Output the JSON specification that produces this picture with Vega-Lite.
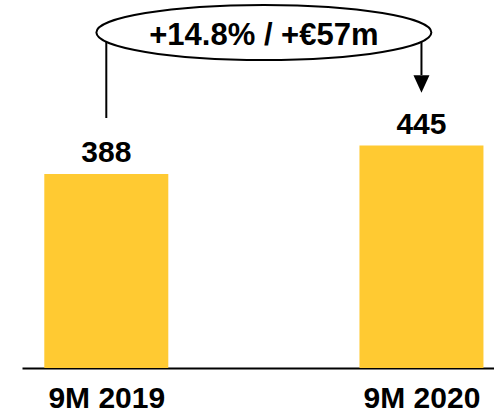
{
  "$schema": "https://vega.github.io/schema/vega-lite/v6.json",
  "autosize": "none",
  "width": 472,
  "height": 368,
  "padding": {"left": 22, "top": 0, "right": 0, "bottom": 46},
  "background": "white",
  "config": {"view": {"stroke": null}, "font": "Liberation Sans"},
  "datasets": {
    "bars": [
      {"period": "9M 2019", "pos": 0, "value": 388},
      {"period": "9M 2020", "pos": 1, "value": 445}
    ],
    "links": [
      {"pos": 0, "from": 500, "to": 656},
      {"pos": 1, "from": 586, "to": 656}
    ],
    "heads": [{"pos": 1, "value": 568}],
    "bubble": [{"pos": 0.5, "value": 671, "textValue": 647, "label": "+14.8% / +€57m"}]
  },
  "encoding": {
    "x": {
      "field": "pos",
      "type": "quantitative",
      "scale": {"domain": [-0.2516, 1.2143], "nice": false, "zero": false},
      "axis": {
        "values": [0, 1],
        "labelExpr": "datum.value == 0 ? '9M 2019' : '9M 2020'",
        "title": null,
        "grid": false,
        "ticks": false,
        "domainColor": "black",
        "domainWidth": 2,
        "labelFont": "Liberation Sans",
        "labelFontWeight": "bold",
        "labelFontSize": 30,
        "labelColor": "black",
        "labelPadding": 15,
        "labelBaseline": "top",
        "labelFlush": false,
        "labelOverlap": false
      }
    }
  },
  "layer": [
    {
      "data": {"name": "bars"},
      "mark": {"type": "bar", "width": 124, "color": "#FFCA32"},
      "encoding": {
        "y": {"field": "value", "type": "quantitative", "scale": {"domain": [0, 736], "nice": false}, "axis": null}
      }
    },
    {
      "data": {"name": "bars"},
      "mark": {"type": "text", "baseline": "alphabetic", "dy": -12, "fontSize": 30, "fontWeight": "bold", "font": "Liberation Sans", "color": "black"},
      "encoding": {
        "y": {"field": "value", "type": "quantitative"},
        "text": {"field": "value", "type": "quantitative"}
      }
    },
    {
      "data": {"name": "links"},
      "mark": {"type": "rule", "color": "black", "strokeWidth": 2},
      "encoding": {
        "y": {"field": "from", "type": "quantitative"},
        "y2": {"field": "to"}
      }
    },
    {
      "data": {"name": "heads"},
      "mark": {"type": "point", "shape": "M -1 -1.1 L 1 -1.1 L 0 1.1 Z", "size": 256, "filled": true, "color": "black", "opacity": 1},
      "encoding": {
        "y": {"field": "value", "type": "quantitative"}
      }
    },
    {
      "data": {"name": "bubble"},
      "mark": {"type": "point", "shape": "M -1 0 C -1 -0.0907 -0.5523 -0.1642 0 -0.1642 C 0.5523 -0.1642 1 -0.0907 1 0 C 1 0.0907 0.5523 0.1642 0 0.1642 C -0.5523 0.1642 -1 0.0907 -1 0 Z", "size": 112225, "filled": true, "fill": "white", "stroke": "black", "strokeWidth": 2, "opacity": 1, "fillOpacity": 1, "strokeOpacity": 1},
      "encoding": {
        "y": {"field": "value", "type": "quantitative"}
      }
    },
    {
      "data": {"name": "bubble"},
      "mark": {"type": "text", "baseline": "alphabetic", "fontSize": 31, "fontWeight": "bold", "font": "Liberation Sans", "color": "black"},
      "encoding": {
        "y": {"field": "textValue", "type": "quantitative"},
        "text": {"field": "label"}
      }
    }
  ]
}
